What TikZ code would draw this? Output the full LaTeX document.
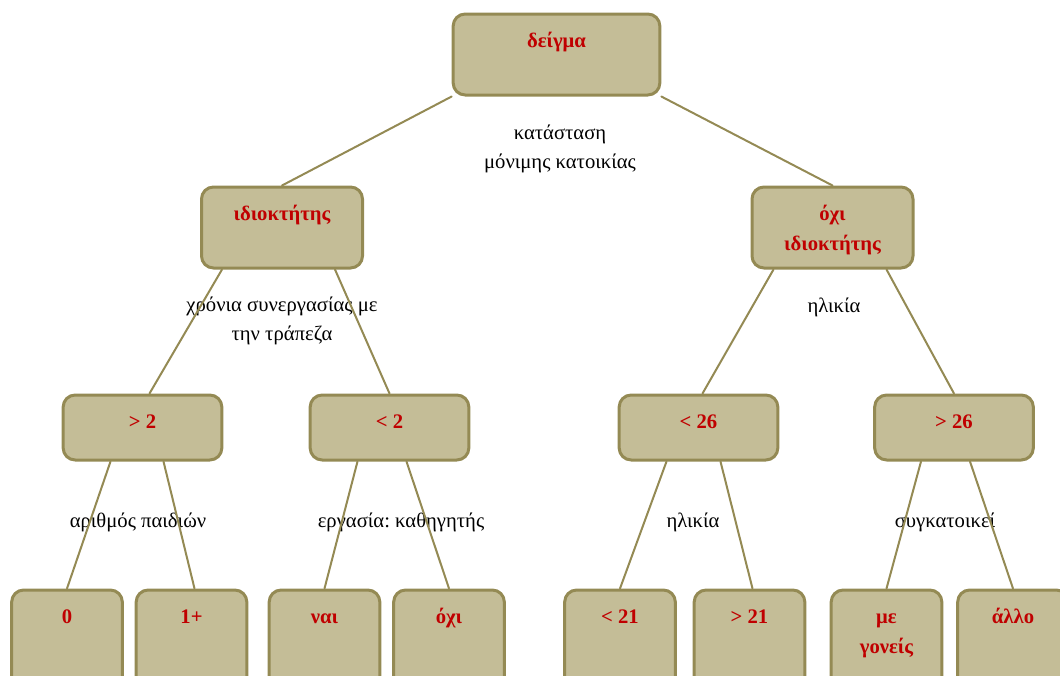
\documentclass[tikz,border=0pt]{standalone}
\usepackage{fontspec}
\setmainfont{Liberation Serif}
\usetikzlibrary{calc}
\definecolor{boxfill}{HTML}{C4BD97}
\definecolor{boxline}{HTML}{948A54}
\definecolor{boxtext}{HTML}{C00000}
\frenchspacing
\newcommand{\knottext}[1]{\parbox[t]{2.7cm}{\centering #1}}
\begin{document}
\begin{tikzpicture}[x=0.75pt,y=-0.75pt, line join=round, line cap=round]
			\tikzset{knot/.style={draw=boxline, fill=boxfill, line width=2.25pt, rounded corners=9pt, inner sep=0pt,
					text=boxtext, font=\bfseries\fontsize{15.5}{22.5}\selectfont, text height=25pt},
				root/.style={knot, minimum width=155pt, text depth=35.75pt},
				inner/.style={knot, minimum width=120.75pt, text depth=35.75pt},
				split/.style={knot, minimum width=119pt, text depth=23.75pt},
				leaf/.style={knot, minimum width=83pt, text depth=50pt},
				cond/.style={font=\fontsize{15.5}{21.75}\selectfont, align=center},
				link/.style={draw=boxline, line width=1.5pt}}
			\clip (0,0) rectangle (1060,675);
			% questions
			\node[cond] (q0) at (560,149) {κατάσταση\\μόνιμης κατοικίας};
			\node[cond] (q1) at (282,321) {χρόνια συνεργασίας με\\την τράπεζα};
			\node[cond] (q2) at (834,307) {ηλικία};
			\node[cond] (q3) at (138,522) {αριθμός παιδιών};
			\node[cond] (q4) at (401,522) {εργασία: καθηγητής};
			\node[cond] (q5) at (693,522) {ηλικία};
			\node[cond] (q6) at (945,522) {συγκατοικεί};
			% tree
			\node[root] (sample) at (556.5,54.5) {\knottext{δείγμα}};
			\node[inner] (own) at (282,227.5) {\knottext{ιδιοκτήτης}};
			\node[inner] (notown) at (832.5,227.5) {\knottext{όχι\\ιδιοκτήτης}};
			\node[split] (gt2) at (142.5,427.5) {\knottext{> 2}};
			\node[split] (lt2) at (389.5,427.5) {\knottext{< 2}};
			\node[split] (lt26) at (698.5,427.5) {\knottext{< 26}};
			\node[split] (gt26) at (954,427.5) {\knottext{> 26}};
			\node[leaf] (zero) at (67,640) {\knottext{0}};
			\node[leaf] (one) at (191.5,640) {\knottext{1+}};
			\node[leaf] (yes) at (324.5,640) {\knottext{ναι}};
			\node[leaf] (no) at (449,640) {\knottext{όχι}};
			\node[leaf] (lt21) at (620,640) {\knottext{< 21}};
			\node[leaf] (gt21) at (749.5,640) {\knottext{> 21}};
			\node[leaf] (parents) at (886.5,640) {\knottext{με\\γονείς}};
			\node[leaf] (other) at (1013,640) {\knottext{άλλο}};
			% branches
			\draw[link] (sample.south west)--(own.north);
			\draw[link] (sample.south east)--(notown.north);
			\draw[link] ($(own.south)+(-60,0)$)--($(gt2.north)+(7,0)$);
			\draw[link] ($(own.south)+(53,0)$)--(lt2.north);
			\draw[link] ($(notown.south)+(-59,0)$)--($(lt26.north)+(4,0)$);
			\draw[link] ($(notown.south)+(54,0)$)--(gt26.north);
			\draw[link] ($(gt2.south)+(-32,0)$)--(zero.north);
			\draw[link] ($(gt2.south)+(21,0)$)--($(one.north)+(3,0)$);
			\draw[link] ($(lt2.south)+(-32,0)$)--(yes.north);
			\draw[link] ($(lt2.south)+(17,0)$)--(no.north);
			\draw[link] ($(lt26.south)+(-32,0)$)--(lt21.north);
			\draw[link] ($(lt26.south)+(22,0)$)--($(gt21.north)+(3,0)$);
			\draw[link] ($(gt26.south)+(-33,0)$)--(parents.north);
			\draw[link] ($(gt26.south)+(16,0)$)--(other.north);
		\end{tikzpicture}
\end{document}
